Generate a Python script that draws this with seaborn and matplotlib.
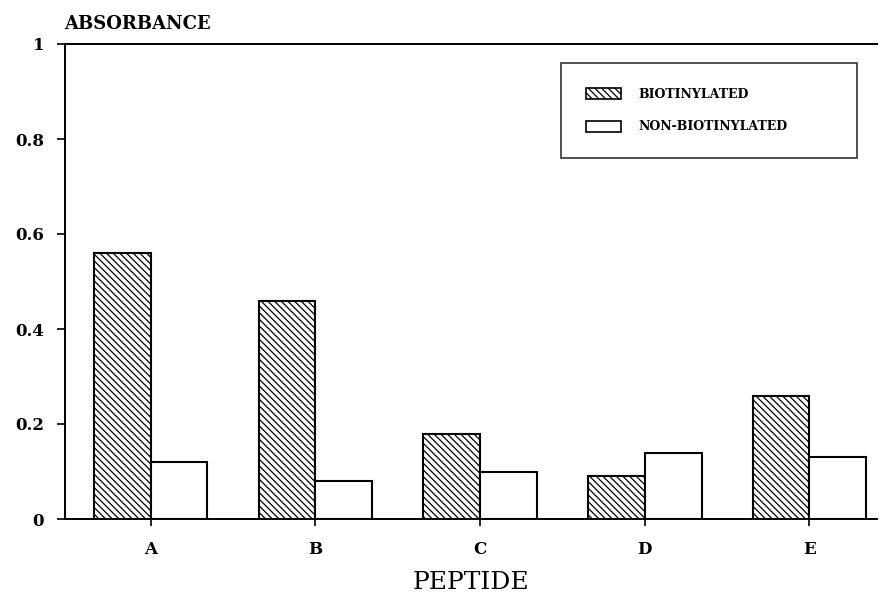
import matplotlib
matplotlib.use('Agg')
import matplotlib.pyplot as plt
import seaborn as sns
import pandas as pd
from matplotlib.patches import Patch

peptides = ['A', 'B', 'C', 'D', 'E']
biotinylated = [0.56, 0.46, 0.18, 0.09, 0.26]
non_biotinylated = [0.12, 0.08, 0.10, 0.14, 0.13]
series = ['BIOTINYLATED', 'NON-BIOTINYLATED']
yticks = [0, 0.2, 0.4, 0.6, 0.8, 1]
ytick_labels = ['0', '0.2', '0.4', '0.6', '0.8', '1']

sns.set_theme(style='ticks')
plt.rcParams['font.family'] = ['DejaVu Serif', 'DejaVu Sans']
plt.rcParams['hatch.linewidth'] = 0.9
plt.rcParams['hatch.color'] = 'black'
plt.rcParams['text.color'] = 'black'
plt.rcParams['axes.labelcolor'] = 'black'
plt.rcParams['xtick.color'] = 'black'
plt.rcParams['ytick.color'] = 'black'

df = pd.DataFrame({
    'peptide': peptides * 2,
    'absorbance': biotinylated + non_biotinylated,
    'series': [series[0]] * len(peptides) + [series[1]] * len(peptides),
})

fig = plt.figure(figsize=(8.85, 6.02), dpi=100)
ax = fig.add_axes([65 / 885, 1 - 519 / 602, 812 / 885, 475 / 602])
sns.barplot(data=df, x='peptide', y='absorbance', hue='series', hue_order=series,
            order=peptides, palette=['white', 'white'], saturation=1, width=0.69,
            edgecolor='black', linewidth=1.5, ax=ax, legend=False, errorbar=None)

hatch = '\\' * 5
for bar in ax.containers[0]:
    bar.set_hatch(hatch)

ax.set_xlim(-0.52, 4.41)
ax.set_ylim(0, 1)
ax.set_yticks(yticks)
ax.set_yticklabels(ytick_labels)
ax.set_xlabel('PEPTIDE', fontsize=18, labelpad=9, color='black')
ax.set_ylabel('')
for lab in ax.get_xticklabels() + ax.get_yticklabels():
    lab.set_fontweight('bold')
    lab.set_fontsize(12)
    lab.set_color('black')
ax.tick_params(axis='x', direction='out', length=5, width=1.2, pad=11, colors='black')
ax.tick_params(axis='y', direction='out', length=6, width=1.2, pad=9, colors='black')

for side in ['left', 'top', 'bottom']:
    ax.spines[side].set_visible(True)
    ax.spines[side].set_linewidth(1.4)
    ax.spines[side].set_color('black')
ax.spines['right'].set_visible(False)

fig.text(64 / 885, 1 - 24 / 602, 'ABSORBANCE', fontsize=13, fontweight='bold',
         ha='left', va='center', color='black')

handles = [Patch(facecolor='white', edgecolor='black', hatch=hatch, linewidth=1.2),
           Patch(facecolor='white', edgecolor='black', linewidth=1.2)]
leg = ax.legend(handles, series, loc='upper left',
                bbox_to_anchor=((561 - 65) / 812, 0, 296 / 812, (519 - 63) / 475),
                mode='expand', borderaxespad=0, frameon=True, fancybox=False,
                prop={'weight': 'bold', 'size': 9}, handlelength=2.8, handleheight=1.0,
                handletextpad=1.4, labelspacing=1.55, borderpad=2.0)
leg.get_frame().set_edgecolor('black')
leg.get_frame().set_linewidth(1.2)
for t in leg.get_texts():
    t.set_color('black')

fig.savefig('out.png', dpi=100)
